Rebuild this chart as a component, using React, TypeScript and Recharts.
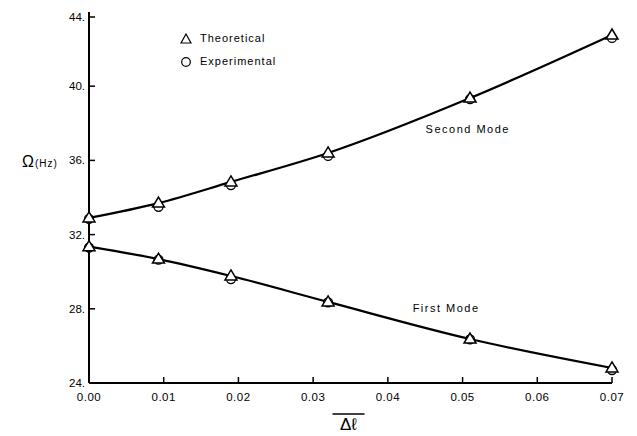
import React from 'react';
import {
  ComposedChart,
  Line,
  Scatter,
  XAxis,
  YAxis,
  Legend,
  ReferenceDot,
} from 'recharts';

// relative length change (Δl bar) and natural frequencies (Hz)
const deltaL = [0, 0.0093, 0.019, 0.032, 0.051, 0.07];
const secondTheoretical = [32.9, 33.7, 34.84, 36.4, 39.36, 42.76];
const secondExperimental = [32.85, 33.5, 34.67, 36.24, 39.3, 42.6];
const firstTheoretical = [31.35, 30.68, 29.77, 28.37, 26.37, 24.81];
const firstExperimental = [31.3, 30.65, 29.6, 28.35, 26.35, 24.7];

const xTicks = [0, 0.01, 0.02, 0.03, 0.04, 0.05, 0.06, 0.07];
const yTicks = [24, 28, 32, 36, 40, 44];

const rows = (vals: number[]) => deltaL.map((x, i) => ({ x, y: vals[i] }));

const FONT = '"Liberation Sans", Arial, sans-serif';

const Triangle = (props: any) => {
  const { cx, cy, index } = props;
  if (cx == null || cy == null) return null;
  return (
    <path
      key={`t-${index}-${cx}`}
      d={`M${cx},${cy - 6} L${cx + 6},${cy + 4} L${cx - 6},${cy + 4} Z`}
      fill="#fff"
      stroke="#000"
      strokeWidth={1.5}
    />
  );
};

const Circle = (props: any) => {
  const { cx, cy } = props;
  return <circle cx={cx} cy={cy} r={4.5} fill="none" stroke="#000" strokeWidth={1.3} />;
};

const YTick = ({ x, y, payload }: any) => (
  <g>
    <line x1={x} y1={y} x2={x + 6} y2={y} stroke="#000" strokeWidth={1.5} />
    <text x={x - 4} y={y + 4} textAnchor="end" fontSize={11.5} fontFamily={FONT} fill="#000">
      {payload.value}.
    </text>
  </g>
);

const XTick = ({ x, y, payload }: any) => (
  <g>
    <line x1={x} y1={y} x2={x} y2={y - 6} stroke="#000" strokeWidth={1.5} />
    <text x={x} y={y + 18} textAnchor="middle" fontSize={11.5} fontFamily={FONT} fill="#000" letterSpacing={0.5}>
      {payload.value.toFixed(2)}
    </text>
  </g>
);

const XLabel = ({ viewBox }: any) => {
  const cx = viewBox.x + viewBox.width / 2 - 2;
  const top = viewBox.y + 31;
  return (
    <g>
      <line x1={cx - 16} y1={top} x2={cx + 16} y2={top} stroke="#000" strokeWidth={1.3} />
      <text x={cx} y={top + 16} textAnchor="middle" fontSize={17} fontFamily={FONT} fill="#000">
        Δℓ
      </text>
    </g>
  );
};

const YLabel = () => (
  <text x={14} y={159} fontFamily={FONT} fill="#000">
    <tspan fontSize={16}>Ω</tspan>
    <tspan fontSize={10} dx={1} letterSpacing={1}>(Hz)</tspan>
  </text>
);

const LegendBox = () => (
  <div style={{ fontFamily: FONT, fontSize: 11, letterSpacing: 1, lineHeight: '23px' }}>
    <div style={{ display: 'flex', alignItems: 'center' }}>
      <svg width={12} height={12} style={{ marginRight: 8 }}>
        <path d="M6,1 L11,10 L1,10 Z" fill="none" stroke="#000" strokeWidth={1.2} />
      </svg>
      Theoretical
    </div>
    <div style={{ display: 'flex', alignItems: 'center' }}>
      <svg width={12} height={12} style={{ marginRight: 8 }}>
        <circle cx={6} cy={6} r={4.3} fill="none" stroke="#000" strokeWidth={1.2} />
      </svg>
      Experimental
    </div>
  </div>
);

const modeLabel = (text: string) => ({
  value: text,
  position: 'center' as const,
  fontSize: 11,
  fontFamily: FONT,
  letterSpacing: 1.5,
  fill: '#000',
});

export default function App() {
  return (
    <ComposedChart
      width={629}
      height={428}
      margin={{ top: 4, right: 25, bottom: 0, left: 0 }}
      style={{ background: '#fff' }}
    >
      <XAxis
        type="number"
        dataKey="x"
        domain={[0, 0.07]}
        ticks={xTicks}
        axisLine={{ stroke: '#000', strokeWidth: 2 }}
        tickLine={false}
        tickSize={0}
        tickMargin={0}
        tick={<XTick />}
        height={53}
        allowDuplicatedCategory={false}
        label={<XLabelWrapper />}
      />
      <YAxis
        type="number"
        domain={[24, 44]}
        ticks={yTicks}
        axisLine={{ stroke: '#000', strokeWidth: 2 }}
        tickLine={false}
        tickSize={0}
        tickMargin={0}
        tick={<YTick />}
        width={81}
        label={<YLabel />}
      />
      <Legend
        layout="vertical"
        verticalAlign="middle"
        align="center"
        content={<LegendBox />}
        wrapperStyle={{ top: 19, left: 172, width: 'auto' }}
      />
      <Line
        data={rows(secondTheoretical)}
        dataKey="y"
        type="monotone"
        stroke="#000"
        strokeWidth={2.2}
        dot={Triangle}
        activeDot={false}
        isAnimationActive={false}
        legendType="none"
      />
      <Line
        data={rows(firstTheoretical)}
        dataKey="y"
        type="monotone"
        stroke="#000"
        strokeWidth={2.2}
        dot={Triangle}
        activeDot={false}
        isAnimationActive={false}
        legendType="none"
      />
      <Scatter
        data={rows(secondExperimental)}
        dataKey="y"
        shape={<Circle />}
        isAnimationActive={false}
        legendType="none"
      />
      <Scatter
        data={rows(firstExperimental)}
        dataKey="y"
        shape={<Circle />}
        isAnimationActive={false}
        legendType="none"
      />
      <ReferenceDot x={0.0507} y={37.69} r={0} fill="none" stroke="none" label={modeLabel('Second Mode')} />
      <ReferenceDot x={0.0478} y={28.05} r={0} fill="none" stroke="none" label={modeLabel('First Mode')} />
    </ComposedChart>
  );
}

function XLabelWrapper(props: any) {
  return <XLabel {...props} />;
}
